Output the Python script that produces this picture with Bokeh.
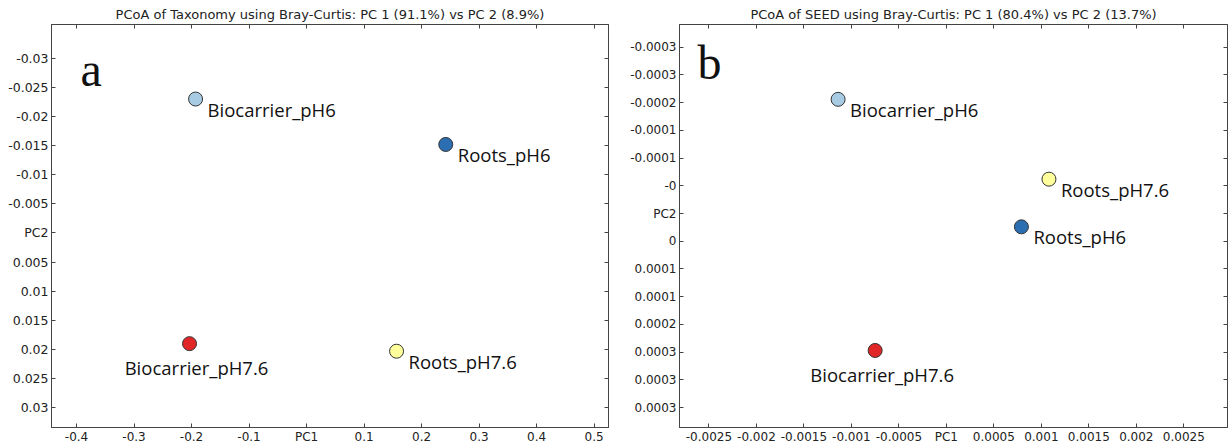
from bokeh.plotting import figure
from bokeh.models import (Range1d, FixedTicker, CustomJSTickFormatter, LinearAxis,
                          Label, ColumnDataSource, AllLabels)
from bokeh.layouts import row
from bokeh.core.properties import value
from bokeh.embed import file_html
from bokeh.resources import INLINE

# ---------------- data ----------------
samples = ["Biocarrier_pH6", "Roots_pH6", "Biocarrier_pH7.6", "Roots_pH7.6"]
colors = ["#a6cbe2", "#2b6eb1", "#e02626", "#ffff9c"]

tax_pc1 = [-0.193, 0.242, -0.2035, 0.1565]
tax_pc2 = [-0.0230, -0.0152, 0.0190, 0.0203]

seed_pc1 = [-0.00114, 0.00079, -0.00075, 0.00108]
seed_pc2 = [-0.000206, 0.000024, 0.000247, -0.000062]

tax_title = "PCoA of Taxonomy using Bray-Curtis: PC 1 (91.1%) vs PC 2 (8.9%)"
seed_title = "PCoA of SEED using Bray-Curtis: PC 1 (80.4%) vs PC 2 (13.7%)"

tax_xticks = [-0.4, -0.3, -0.2, -0.1, 0.0, 0.1, 0.2, 0.3, 0.4, 0.5]
tax_xlabels = ["-0.4", "-0.3", "-0.2", "-0.1", "PC1", "0.1", "0.2", "0.3", "0.4", "0.5"]
tax_yticks = [-0.03, -0.025, -0.02, -0.015, -0.01, -0.005, 0.0,
              0.005, 0.01, 0.015, 0.02, 0.025, 0.03]
tax_ylabels = ["-0.03", "-0.025", "-0.02", "-0.015", "-0.01", "-0.005", "PC2",
               "0.005", "0.01", "0.015", "0.02", "0.025", "0.03"]

seed_xticks = [-0.0025, -0.002, -0.0015, -0.001, -0.0005, 0.0,
               0.0005, 0.001, 0.0015, 0.002, 0.0025]
seed_xlabels = ["-0.0025", "-0.002", "-0.0015", "-0.001", "-0.0005", "PC1",
                "0.0005", "0.001", "0.0015", "0.002", "0.0025"]
seed_yticks = [-0.0003, -0.00025, -0.0002, -0.00015, -0.0001, -0.00005, 0.0,
               0.00005, 0.0001, 0.00015, 0.0002, 0.00025, 0.0003, 0.00035]
seed_ylabels = ["-0.0003", "-0.0003", "-0.0002", "-0.0001", "-0.0001", "-0", "PC2",
                "0", "0.0001", "0.0001", "0.0002", "0.0003", "0.0003", "0.0003"]

below_labels = {"Biocarrier_pH7.6"}

AX = "#444444"
TXT = "#222222"


def fmt(tvals, tlabs):
    return CustomJSTickFormatter(args=dict(tvals=tvals, tlabs=tlabs), code="""
        let best = 0, bd = Infinity;
        for (let i = 0; i < tvals.length; i++) {
            const d = Math.abs(tvals[i] - tick);
            if (d < bd) { bd = d; best = i; }
        }
        return tlabs[best];
    """)


def style_axis(ax, tvals, tlabs, label_size, standoff):
    ax.ticker = FixedTicker(ticks=tvals)
    ax.formatter = fmt(tvals, tlabs)
    ax.axis_line_color = AX
    ax.major_tick_line_color = AX
    ax.major_tick_in = 4
    ax.major_tick_out = 0
    ax.minor_tick_line_color = None
    ax.major_label_text_font = "DejaVu Sans"
    ax.major_label_policy = AllLabels()
    if label_size:
        ax.major_label_text_font_size = label_size
        ax.major_label_text_color = TXT
        ax.major_label_standoff = standoff
    else:
        ax.major_label_text_font_size = "0px"
        ax.major_label_text_color = None
        ax.major_label_standoff = 0


def panel(title, xs, ys, xr, yr, xt, xl, yt, yl, letter, lx, ly,
          width, mleft, mright, mbottom, ylab_size):
    p = figure(width=width, height=446, output_backend="svg", toolbar_location=None,
               x_range=Range1d(*xr), y_range=Range1d(*yr),
               x_axis_location=None, y_axis_location=None,
               min_border_left=mleft, min_border_right=mright,
               min_border_top=24, min_border_bottom=mbottom)
    p.title.text = title
    p.title.align = "center"
    p.title.text_font = "DejaVu Sans"
    p.title.text_font_size = "13px"
    p.title.text_font_style = "normal"
    p.title.text_color = TXT
    p.title.standoff = 5
    p.grid.visible = False
    p.outline_line_color = AX
    p.background_fill_color = "white"
    p.border_fill_color = "white"

    for loc, tv, tl, size, so in (("below", xt, xl, "12px", 2), ("above", xt, xl, None, 0),
                                  ("left", yt, yl, ylab_size, 3), ("right", yt, yl, None, 0)):
        ax = LinearAxis()
        style_axis(ax, tv, tl, size, so)
        p.add_layout(ax, loc)

    src = ColumnDataSource(dict(x=xs, y=ys, name=samples, color=colors))
    p.scatter("x", "y", source=src, size=14, fill_color="color",
              line_color="#333333", line_width=1)

    right_idx = [i for i, s in enumerate(samples) if s not in below_labels]
    below_idx = [i for i, s in enumerate(samples) if s in below_labels]
    p.text(x=[xs[i] for i in right_idx], y=[ys[i] for i in right_idx],
           text=[samples[i] for i in right_idx],
           x_offset=12, y_offset=10, text_align="left", text_baseline="middle",
           text_font=value("Open Sans"), text_font_size="18.5px", text_color="#111111")
    p.text(x=[xs[i] for i in below_idx], y=[ys[i] for i in below_idx],
           text=[samples[i] for i in below_idx],
           x_offset=7, y_offset=24, text_align="center", text_baseline="middle",
           text_font=value("Open Sans"), text_font_size="18.5px", text_color="#111111")

    p.add_layout(Label(x=lx, y=ly, x_units="screen", y_units="screen", text=letter,
                       text_font="Liberation Serif", text_font_size="48px",
                       text_color="#111111", text_baseline="alphabetic"))
    return p


p1 = panel(tax_title, tax_pc1, tax_pc2, (-0.4435, 0.525), (0.0334, -0.0358),
           tax_xticks, tax_xlabels, tax_yticks, tax_ylabels, "a", 29, 358,
           612, 51, 4, 15, "12.5px")
p2 = panel(seed_title, seed_pc1, seed_pc2, (-0.00281, 0.00296), (0.000386, -0.000341),
           seed_xticks, seed_xlabels, seed_yticks, seed_ylabels, "b", 18, 365,
           616, 67, 1, 18, "12px")

layout = row(p1, p2, spacing=0)
open("out.html", "w").write(file_html(layout, INLINE))
